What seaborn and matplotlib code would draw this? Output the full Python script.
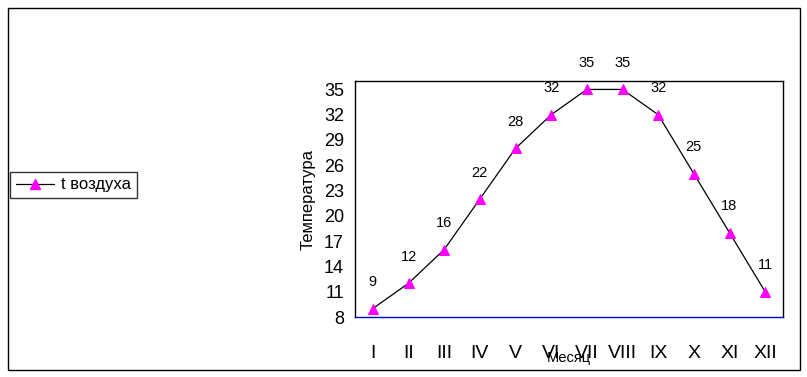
import matplotlib
matplotlib.use("Agg")
import matplotlib.pyplot as plt
import seaborn as sns
import pandas as pd
from matplotlib.patches import Rectangle
from matplotlib.lines import Line2D

months = ["I", "II", "III", "IV", "V", "VI", "VII", "VIII", "IX", "X", "XI", "XII"]
temps = [9, 12, 16, 22, 28, 32, 35, 35, 32, 25, 18, 11]
yticks = [8, 11, 14, 17, 20, 23, 26, 29, 32, 35]

sns.set_style("white")
plt.rcParams['font.family'] = ['Liberation Sans', 'DejaVu Sans']
plt.rcParams['text.color'] = 'black'
plt.rcParams['axes.labelcolor'] = 'black'
plt.rcParams['xtick.color'] = 'black'
plt.rcParams['ytick.color'] = 'black'

df = pd.DataFrame({"month": months, "t": temps})
df["pos"] = range(len(months))

W, H = 807, 377
fig = plt.figure(figsize=(W / 100, H / 100), dpi=100)
fig.patches.append(Rectangle((8 / W, 1 - 370 / H), 792 / W, 362 / H, transform=fig.transFigure,
                             fill=False, edgecolor="black", linewidth=1))

ax = fig.add_axes([355 / W, 1 - 317 / H, 428 / W, 236 / H])
sns.lineplot(data=df, x="pos", y="t", ax=ax, color="black", linewidth=0.9,
             marker="^", markersize=7, markerfacecolor="#ff00ff", markeredgecolor="#ff00ff")

for p, v in zip(df["pos"], df["t"]):
    ax.annotate(str(v), (p, v), xytext=(0, 19), textcoords="offset points",
                ha="center", va="center", fontsize=10.5, color="black")

ax.set_xlim(-0.5, len(months) - 0.5)
ax.set_ylim(8, 36)
ax.set_yticks(yticks)
ax.set_yticklabels([str(t) for t in yticks], fontsize=13)
ax.set_xticks([i - 0.5 for i in range(len(months) + 1)])
ax.set_xticklabels([])
ax.set_xticks(range(len(months)), minor=True)
ax.set_xticklabels(months, minor=True, fontsize=14)
ax.tick_params(axis="x", which="major", direction="out", length=6, width=1, color="black")
ax.tick_params(axis="x", which="minor", length=0, pad=20)
ax.tick_params(axis="y", direction="out", length=5, width=1, color="black", pad=3)
for s in ["top", "right", "left"]:
    ax.spines[s].set_visible(True)
    ax.spines[s].set_color("black")
    ax.spines[s].set_linewidth(1)
ax.spines["bottom"].set_color("#0000cc")
ax.spines["bottom"].set_linewidth(1)
ax.set_xlabel("Месяц", fontsize=10.5, labelpad=-8)
ax.set_ylabel("Температура", fontsize=12, labelpad=6)
ax.grid(False)

handle = Line2D([0], [0], color="black", linewidth=0.9, marker="^", markersize=7,
                markerfacecolor="#ff00ff", markeredgecolor="#ff00ff")
fig.legend([handle], ["t воздуха"], loc="center left", bbox_to_anchor=(10 / W, 1 - 185 / H),
           frameon=True, fancybox=False, edgecolor="black", fontsize=12,
           handlelength=2.3, borderpad=0.35, handletextpad=0.4, borderaxespad=0)

fig.savefig("out.png", dpi=100)
